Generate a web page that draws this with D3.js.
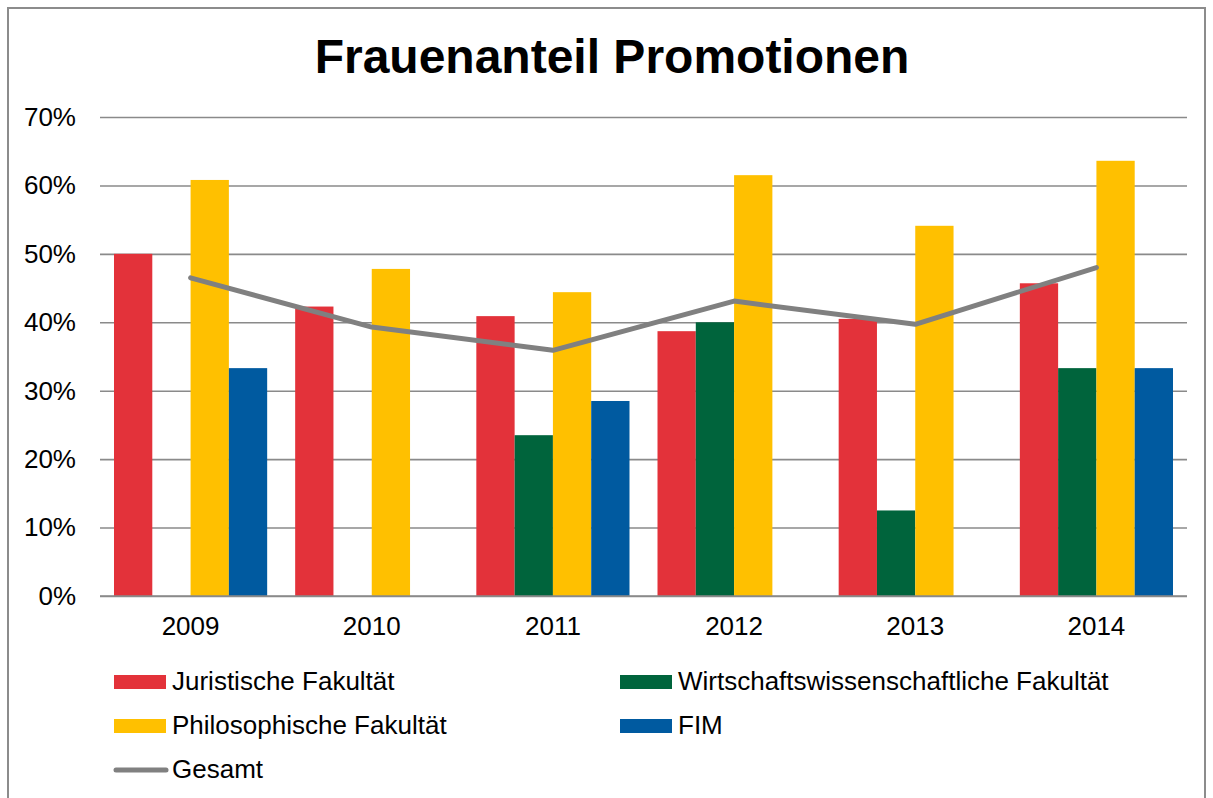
<!DOCTYPE html>
<html>
<head>
<meta charset="utf-8">
<script src="https://cdn.jsdelivr.net/npm/d3@7"></script>
<style>
  body { margin: 0; background: #fff; }
  svg { display: block; font-family: "Liberation Sans", Arial, sans-serif; }
</style>
</head>
<body>
<svg id="chart" width="1213" height="798"></svg>
<script>
// Frauenanteil Promotionen, values (fractions)
const YEARS = ['2009', '2010', '2011', '2012', '2013', '2014'];
const SERIES = ['Juristische Fakultät', 'Wirtschaftswissenschaftliche Fakultät', 'Philosophische Fakultät', 'FIM'];
const JURA = [0.500, 0.423, 0.409, 0.387, 0.405, 0.457];
const WIWI = [null, null, 0.235, 0.400, 0.125, 0.333];
const PHIL = [0.608, 0.478, 0.444, 0.615, 0.541, 0.636];
const FIM = [0.333, null, 0.285, null, null, 0.333];
const GESAMT = [0.465, 0.393, 0.359, 0.431, 0.397, 0.480];
const YTICKS = [0, 0.1, 0.2, 0.3, 0.4, 0.5, 0.6, 0.7];

const COLORS = ['#E3323A', '#00643C', '#FFC000', '#005AA0'];
const LINE_COLOR = '#808080';
const GRID_COLOR = '#8a8a8a';
const LABEL_SIZE = 26;

const svg = d3.select('#chart');

// plot area (window.top is taken, so prefix these)
const plotL = 100, plotR = 1187, plotT = 117, plotB = 596;

const x0 = d3.scaleBand().domain(YEARS).range([plotL, plotR]);
const x1 = d3.scaleBand().domain(SERIES).range([14, x0.bandwidth() - 14]);
const y = d3.scaleLinear().domain([0, 0.7]).range([plotB, plotT]);

// outer frame
svg.append('rect')
  .attr('x', 8).attr('y', 8)
  .attr('width', 1197).attr('height', 800)
  .attr('fill', 'none')
  .attr('stroke', '#8c8c8c')
  .attr('stroke-width', 2);

// title
svg.append('text')
  .attr('x', 612).attr('y', 73)
  .attr('text-anchor', 'middle')
  .attr('font-weight', 'bold')
  .attr('font-size', 48)
  .attr('fill', '#000')
  .text('Frauenanteil Promotionen');

// gridlines + y labels
svg.append('g')
  .attr('transform', `translate(${plotL},0)`)
  .call(d3.axisLeft(y)
    .tickValues(YTICKS)
    .tickSize(-(plotR - plotL))
    .tickPadding(24)
    .tickFormat(d3.format('.0%')))
  .call(g => g.select('.domain').remove())
  .call(g => g.selectAll('line').attr('stroke', GRID_COLOR).attr('stroke-width', 1.6))
  .call(g => g.selectAll('text')
    .attr('font-size', LABEL_SIZE)
    .attr('font-family', '"Liberation Sans", Arial, sans-serif')
    .attr('fill', '#000'));

// bars
const rows = YEARS.map((yr, i) => ({
  year: yr,
  vals: [JURA[i], WIWI[i], PHIL[i], FIM[i]]
}));

const groups = svg.append('g').selectAll('g')
  .data(rows)
  .join('g')
  .attr('transform', d => `translate(${x0(d.year)},0)`);

groups.selectAll('rect')
  .data(d => d.vals.map((v, k) => ({ key: SERIES[k], v, k })).filter(o => o.v != null))
  .join('rect')
  .attr('x', o => x1(o.key))
  .attr('width', x1.bandwidth())
  .attr('y', o => y(o.v))
  .attr('height', o => y(0) - y(o.v))
  .attr('fill', o => COLORS[o.k]);

// baseline on top of bars
svg.append('line')
  .attr('x1', plotL).attr('x2', plotR)
  .attr('y1', y(0)).attr('y2', y(0))
  .attr('stroke', GRID_COLOR).attr('stroke-width', 1.6);

// x labels
svg.append('g')
  .attr('transform', `translate(0,${plotB})`)
  .call(d3.axisBottom(x0).tickSize(0).tickPadding(21))
  .call(g => g.select('.domain').remove())
  .call(g => g.selectAll('text')
    .attr('font-size', LABEL_SIZE)
    .attr('font-family', '"Liberation Sans", Arial, sans-serif')
    .attr('fill', '#000'));

// Gesamt line
const line = d3.line()
  .x((d, i) => x0(YEARS[i]) + x0.bandwidth() / 2)
  .y(d => y(d));

svg.append('path')
  .datum(GESAMT)
  .attr('d', line)
  .attr('fill', 'none')
  .attr('stroke', LINE_COLOR)
  .attr('stroke-width', 5)
  .attr('stroke-linecap', 'round')
  .attr('stroke-linejoin', 'round');

// legend
const legendItems = [
  { label: SERIES[0], color: COLORS[0], col: 0, row: 0, type: 'bar' },
  { label: SERIES[1], color: COLORS[1], col: 1, row: 0, type: 'bar' },
  { label: SERIES[2], color: COLORS[2], col: 0, row: 1, type: 'bar' },
  { label: SERIES[3], color: COLORS[3], col: 1, row: 1, type: 'bar' },
  { label: 'Gesamt', color: LINE_COLOR, col: 0, row: 2, type: 'line' }
];
const colX = [114, 620], rowY = [682, 726, 770];

const leg = svg.append('g').selectAll('g')
  .data(legendItems)
  .join('g')
  .attr('transform', d => `translate(${colX[d.col]},${rowY[d.row]})`);

leg.filter(d => d.type === 'bar').append('rect')
  .attr('x', 0).attr('y', -7)
  .attr('width', 52).attr('height', 14)
  .attr('fill', d => d.color);

leg.filter(d => d.type === 'line').append('line')
  .attr('x1', 2).attr('x2', 52)
  .attr('y1', 0).attr('y2', 0)
  .attr('stroke', d => d.color)
  .attr('stroke-width', 5)
  .attr('stroke-linecap', 'round');

leg.append('text')
  .attr('x', 58).attr('y', 7.5)
  .attr('font-size', LABEL_SIZE)
  .attr('fill', '#000')
  .text(d => d.label);
</script>
</body>
</html>
